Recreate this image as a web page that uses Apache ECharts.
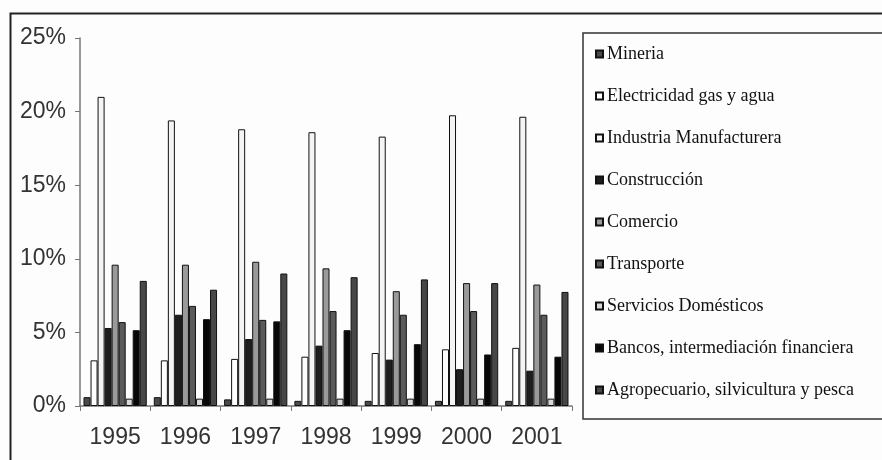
<!DOCTYPE html>
<html>
<head>
<meta charset="utf-8">
<script src="https://cdn.jsdelivr.net/npm/echarts@6/dist/echarts.min.js"></script>
<style>
html,body{margin:0;padding:0;background:#fdfdfd;}
#c{width:882px;height:460px;}
</style>
</head>
<body>
<div id="c"></div>
<script>
const years = ['1995','1996','1997','1998','1999','2000','2001'];
const seriesNames = ['Mineria','Electricidad gas y agua','Industria Manufacturera','Construcción','Comercio','Transporte','Servicios Domésticos','Bancos, intermediación financiera','Agropecuario, silvicultura y pesca'];
const mineria      = [0.6, 0.6, 0.45, 0.35, 0.35, 0.35, 0.35];
const electricidad = [3.1, 3.1, 3.2, 3.35, 3.6, 3.85, 3.95];
const industria    = [21.0, 19.4, 18.8, 18.6, 18.3, 19.75, 19.65];
const construccion = [5.3, 6.2, 4.55, 4.1, 3.15, 2.5, 2.4];
const comercio     = [9.6, 9.6, 9.8, 9.35, 7.8, 8.35, 8.25];
const transporte   = [5.7, 6.8, 5.85, 6.45, 6.2, 6.45, 6.2];
const servicios    = [0.5, 0.5, 0.5, 0.5, 0.5, 0.5, 0.5];
const bancos       = [5.15, 5.9, 5.75, 5.15, 4.2, 3.5, 3.35];
const agro         = [8.5, 7.9, 9.0, 8.75, 8.6, 8.35, 7.75];
const yTicks = [0, 5, 10, 15, 20, 25];

const values = [mineria, electricidad, industria, construccion, comercio, transporte, servicios, bancos, agro];
const colors = ['#4a4a4a','#ffffff','#f4f4f4','#1e1e1e','#9a9a9a','#5a5a5a','#d8d8d8','#080808','#474747'];

const chart = echarts.init(document.getElementById('c'));
chart.setOption({
  backgroundColor: '#fdfdfd',
  animation: false,
  graphic: [{
    type: 'rect', left: 8, top: 11, shape: {width: 900, height: 470},
    style: {fill: 'none', stroke: '#222', lineWidth: 2}, silent: true
  }],
  grid: {left: 80, right: 310, top: 38, bottom: 54, containLabel: false},
  legend: {
    orient: 'vertical', left: 583, top: 33,
    padding: [12, 60, 20, 12],
    itemGap: 24, itemWidth: 7, itemHeight: 7, icon: 'rect',
    borderColor: '#333', borderWidth: 1.5,
    textStyle: {fontFamily: 'Liberation Serif', fontSize: 18, lineHeight: 16, color: '#111', padding: [0,0,0,-1]},
    data: seriesNames
  },
  xAxis: {
    type: 'category', data: years,
    axisLine: {lineStyle: {color: '#777', width: 1.5}},
    axisTick: {show: true, length: 5, lineStyle: {color: '#777'}},
    axisLabel: {fontFamily: 'Liberation Sans', fontSize: 23, color: '#333', margin: 20}
  },
  yAxis: {
    type: 'value', min: yTicks[0], max: yTicks[yTicks.length-1], interval: 5,
    axisLine: {show: true, lineStyle: {color: '#777', width: 1.5}},
    axisTick: {show: true, length: 5, lineStyle: {color: '#777'}},
    splitLine: {show: false},
    axisLabel: {fontFamily: 'Liberation Sans', fontSize: 23, color: '#333', margin: 14, formatter: '{value}%'}
  },
  series: seriesNames.map((n, i) => ({
    name: n, type: 'bar', data: values[i],
    barGap: '0%', barCategoryGap: '10%',
    itemStyle: {color: colors[i], borderColor: '#111', borderWidth: 1}
  }))
});
</script>
</body>
</html>
